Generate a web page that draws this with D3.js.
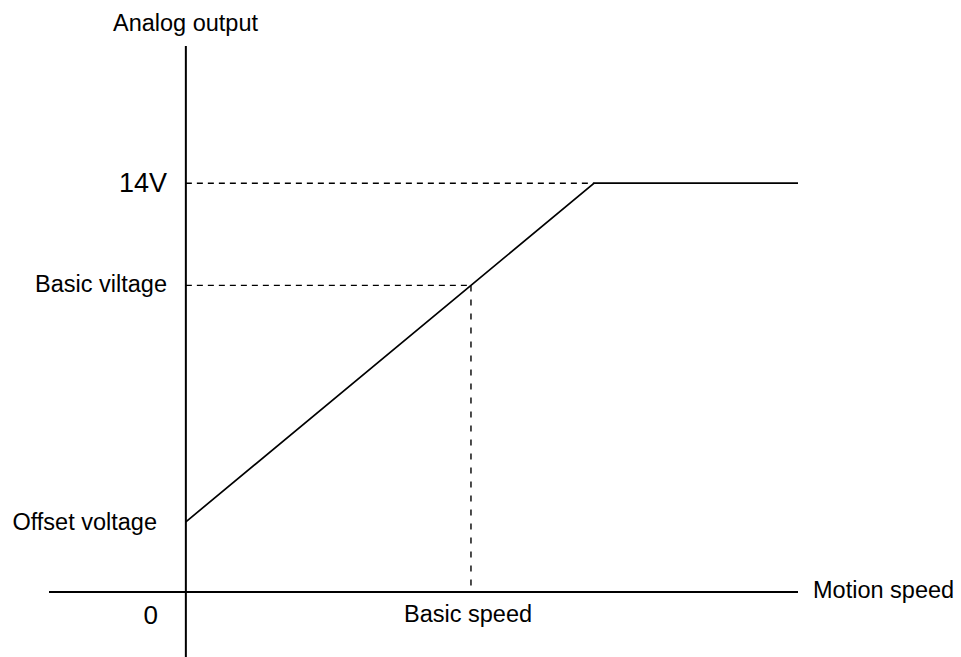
<!DOCTYPE html>
<html>
<head>
<meta charset="utf-8">
<script src="https://cdn.jsdelivr.net/npm/d3@7"></script>
<style>
  html, body { margin: 0; padding: 0; background: #fff; }
  svg { display: block; }
  text { font-family: "Liberation Sans", Arial, Helvetica, sans-serif; fill: #000; }
</style>
</head>
<body>
<svg id="chart" width="961" height="657"></svg>
<script>
// Speed in units of the basic speed, voltage in volts
const speedExtent = [-0.48, 2.147];
const voltExtent = [-2.23, 18.7];
const basicSpeed = 1;
const offsetVoltage = 2.4;
const basicVoltage = 10.5;
const maxVoltage = 14;
const slope = (basicVoltage - offsetVoltage) / basicSpeed;
const kneeSpeed = (maxVoltage - offsetVoltage) / slope;
const endSpeed = 2.147;

// Characteristic curve: offset → basic point → saturation at 14V
const curveSpeeds = [0, basicSpeed, kneeSpeed, endSpeed];
const curveVolts = [offsetVoltage, basicVoltage, maxVoltage, maxVoltage];

const yLabels = ["14V", "Basic viltage", "Offset voltage", "0"];
const yLabelValues = [maxVoltage, basicVoltage, offsetVoltage, 0];

const svg = d3.select("#chart");

const x = d3.scaleLinear().domain(speedExtent).range([49, 798]);
const y = d3.scaleLinear().domain(voltExtent).range([657, 46]);

// Dashed guides
svg.append("line")
  .attr("x1", x(0)).attr("x2", x(kneeSpeed))
  .attr("y1", y(maxVoltage)).attr("y2", y(maxVoltage))
  .attr("stroke", "#000").attr("stroke-width", 1.4).attr("stroke-dasharray", "6,5");
svg.append("line")
  .attr("x1", x(0)).attr("x2", x(basicSpeed))
  .attr("y1", y(basicVoltage)).attr("y2", y(basicVoltage))
  .attr("stroke", "#000").attr("stroke-width", 1.4).attr("stroke-dasharray", "6,5");
svg.append("line")
  .attr("x1", x(basicSpeed)).attr("x2", x(basicSpeed))
  .attr("y1", y(basicVoltage)).attr("y2", y(0))
  .attr("stroke", "#000").attr("stroke-width", 1.4).attr("stroke-dasharray", "6,8");

// Axes
svg.append("line")
  .attr("x1", x(speedExtent[0])).attr("x2", x(speedExtent[1]))
  .attr("y1", y(0)).attr("y2", y(0))
  .attr("stroke", "#000").attr("stroke-width", 2);
svg.append("line")
  .attr("x1", x(0)).attr("x2", x(0))
  .attr("y1", y(voltExtent[1])).attr("y2", y(voltExtent[0]))
  .attr("stroke", "#000").attr("stroke-width", 2);

// Output curve
const line = d3.line().x((d, i) => x(curveSpeeds[i])).y(d => y(d));
svg.append("path")
  .datum(curveVolts)
  .attr("d", line)
  .attr("fill", "none")
  .attr("stroke", "#000")
  .attr("stroke-width", 1.7);

// Voltage labels on the left of the vertical axis
const labelSizes = [27, 23.5, 23.5, 26];
const labelRight = [167, 167, 157, 158];
const labelDy = [9, 7, 8, 32];
svg.selectAll("text.ylab")
  .data(yLabels)
  .join("text")
  .attr("class", "ylab")
  .attr("x", (d, i) => labelRight[i])
  .attr("y", (d, i) => y(yLabelValues[i]) + labelDy[i])
  .attr("text-anchor", "end")
  .style("font-size", (d, i) => labelSizes[i] + "px")
  .text(d => d);

// Axis titles
svg.append("text")
  .attr("x", 113).attr("y", 31)
  .style("font-size", "23.5px")
  .text("Analog output");

svg.append("text")
  .attr("x", 813).attr("y", y(0) + 6)
  .style("font-size", "23.5px")
  .text("Motion speed");

svg.append("text")
  .attr("x", 404).attr("y", y(0) + 30)
  .style("font-size", "23.5px")
  .text("Basic speed");
</script>
</body>
</html>
